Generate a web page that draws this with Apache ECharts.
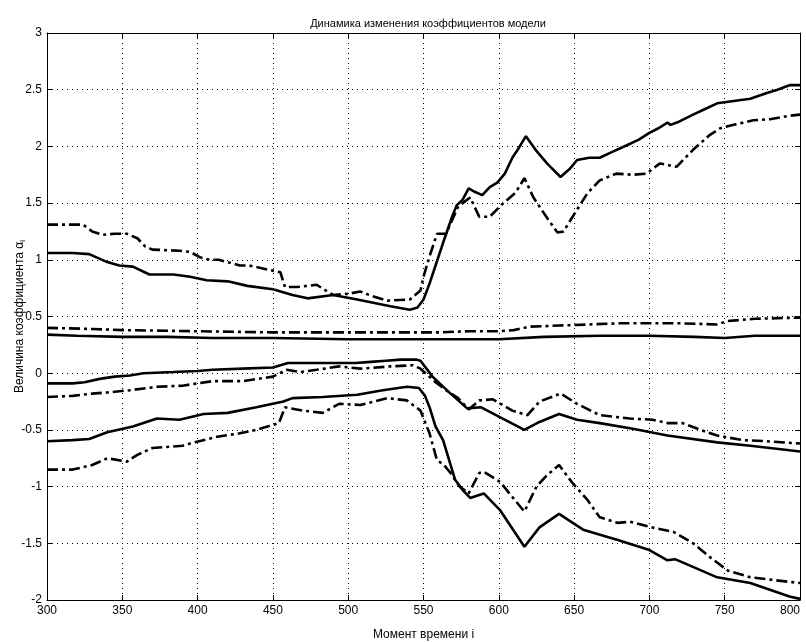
<!DOCTYPE html>
<html>
<head>
<meta charset="utf-8">
<script src="https://cdn.jsdelivr.net/npm/echarts/dist/echarts.min.js"></script>
<style>
html,body{margin:0;padding:0;background:#fff;}
#chart{width:806px;height:642px;}
</style>
</head>
<body>
<div id="chart"></div>
<script>
// ---- data ----
const xTicks = [300, 350, 400, 450, 500, 550, 600, 650, 700, 750, 800];
const yTicks = [-2, -1.5, -1, -0.5, 0, 0.5, 1, 1.5, 2, 2.5, 3];

// a1 (solid, top)
const t1 = [300,317,328,340,348,357,368,384,395,406,420,433,450,463,473,490,506,528,541,546,550,554,558,563,569,572,576,580,584,589,594,599,604,609,613,618,625,632,641,647,652,660,667,675,685,693,700,706,712,714,720,729,737,745,756,767,778,785,793,800];
const a1 = [1.06,1.06,1.05,0.98,0.95,0.94,0.87,0.87,0.85,0.82,0.81,0.77,0.74,0.69,0.66,0.69,0.65,0.59,0.56,0.58,0.65,0.79,0.95,1.15,1.38,1.48,1.53,1.63,1.60,1.57,1.64,1.68,1.76,1.90,1.98,2.09,1.96,1.85,1.73,1.80,1.88,1.90,1.90,1.95,2.01,2.06,2.12,2.16,2.21,2.19,2.22,2.28,2.33,2.38,2.40,2.42,2.47,2.50,2.54,2.54];

// a2 (dash-dot, top)
const t2 = [300,324,330,337,345,353,360,365,370,388,395,402,408,414,428,434,448,455,458,466,479,485,490,500,508,516,526,541,548,550,554,559,565,569,573,581,587,594,603,611,617,623,632,639,643,649,659,667,678,689,698,707,718,729,740,747,756,769,780,793,800];
const a2 = [1.31,1.31,1.25,1.22,1.23,1.23,1.19,1.12,1.09,1.08,1.07,1.02,1.00,1.00,0.95,0.95,0.91,0.89,0.76,0.76,0.78,0.73,0.69,0.70,0.72,0.68,0.64,0.65,0.73,0.85,1.03,1.23,1.23,1.35,1.47,1.55,1.38,1.38,1.50,1.59,1.72,1.55,1.37,1.24,1.25,1.38,1.59,1.70,1.76,1.75,1.76,1.85,1.82,1.97,2.10,2.16,2.19,2.23,2.24,2.27,2.28];

// a3 (dash-dot, ~0.4)
const t3 = [300,330,350,400,450,500,540,560,580,600,610,620,640,660,680,700,720,745,752,770,800];
const a3 = [0.40,0.39,0.38,0.37,0.36,0.36,0.36,0.36,0.37,0.37,0.38,0.41,0.42,0.43,0.44,0.44,0.44,0.43,0.46,0.48,0.49];

// a4 (solid, ~0.33)
const t4 = [300,320,350,380,410,450,500,550,580,600,630,667,700,730,750,770,800];
const a4 = [0.34,0.33,0.32,0.32,0.31,0.31,0.30,0.30,0.30,0.30,0.32,0.33,0.33,0.32,0.31,0.33,0.33];

// a5 (solid, near 0)
const t5 = [300,317,325,335,345,355,364,384,400,410,430,450,455,460,470,490,505,515,525,535,545,548,556,568,579,588,601,617,627,640,652,667,689,712,745,767,793,800];
const a5 = [-0.09,-0.09,-0.08,-0.05,-0.03,-0.02,0.00,0.01,0.02,0.03,0.04,0.05,0.07,0.09,0.09,0.09,0.09,0.10,0.11,0.12,0.12,0.11,-0.03,-0.18,-0.31,-0.30,-0.39,-0.50,-0.43,-0.36,-0.41,-0.44,-0.49,-0.55,-0.61,-0.64,-0.68,-0.69];

// a6 (dash-dot, near -0.2)
const t6 = [300,317,330,340,355,373,390,410,430,450,459,468,479,494,508,528,543,548,553,558,565,573,580,587,596,609,619,627,641,652,667,687,702,712,722,734,745,762,778,800];
const a6 = [-0.21,-0.20,-0.18,-0.17,-0.15,-0.12,-0.11,-0.07,-0.07,-0.03,0.03,0.01,0.03,0.06,0.04,0.06,0.07,0.04,-0.02,-0.08,-0.15,-0.22,-0.32,-0.24,-0.23,-0.33,-0.37,-0.25,-0.18,-0.27,-0.37,-0.40,-0.41,-0.44,-0.44,-0.50,-0.55,-0.59,-0.60,-0.62];

// a7 (solid, lower)
const t7 = [300,317,328,340,357,373,388,404,420,439,457,463,483,506,523,539,547,551,554,558,563,571,576,581,590,601,617,627,640,656,679,700,712,717,745,767,793,800];
const a7 = [-0.60,-0.59,-0.58,-0.52,-0.47,-0.40,-0.41,-0.36,-0.35,-0.30,-0.25,-0.22,-0.21,-0.19,-0.15,-0.12,-0.13,-0.20,-0.30,-0.47,-0.59,-0.94,-1.03,-1.10,-1.06,-1.21,-1.53,-1.36,-1.24,-1.38,-1.47,-1.56,-1.65,-1.64,-1.80,-1.85,-1.97,-1.99];

// a8 (dash-dot, lower)
const t8 = [300,317,330,340,353,360,370,390,395,413,428,439,454,458,470,483,494,508,526,539,548,554,559,563,568,574,580,587,590,601,607,617,625,632,640,649,659,667,679,687,702,716,729,740,752,767,793,800];
const a8 = [-0.85,-0.85,-0.81,-0.75,-0.78,-0.72,-0.66,-0.64,-0.62,-0.56,-0.53,-0.50,-0.44,-0.30,-0.33,-0.35,-0.27,-0.28,-0.22,-0.24,-0.33,-0.53,-0.77,-0.80,-0.88,-1.00,-1.06,-0.88,-0.87,-0.96,-1.06,-1.22,-1.00,-0.90,-0.81,-0.97,-1.12,-1.27,-1.32,-1.31,-1.36,-1.40,-1.50,-1.62,-1.74,-1.80,-1.84,-1.85];

const titleText = 'Динамика изменения коэффициентов модели';
const xName = 'Момент времени i';
const yNamePrefix = 'Величина коэффициента ';

// ---- build ----
function zip(t, a) { return t.map((v, i) => [v, a[i]]); }
const solid = { color: '#000', width: 2.6, type: 'solid' };
const dashdot = { color: '#000', width: 2.6, type: [11, 4, 3, 4] };
function mk(t, a, style) {
  return { type: 'line', data: zip(t, a), showSymbol: false, symbol: 'none',
    lineStyle: style, xAxisIndex: 0, yAxisIndex: 0, silent: true, z: 3 };
}

const chart = echarts.init(document.getElementById('chart'), null, { renderer: 'canvas' });
const font = 'Liberation Sans, Arial, sans-serif';
const baseX = { type: 'value', min: 300, max: 800, interval: 50 };
const baseY = { type: 'value', min: -2, max: 3, interval: 0.5 };
const frameLine = { show: true, onZero: false, lineStyle: { color: '#000', width: 1 } };
const tick = { show: true, inside: true, length: 5, lineStyle: { color: '#000' } };
const grid = { show: true, lineStyle: { color: '#000', width: 1, type: [1, 4] } };
chart.setOption({
  animation: false,
  backgroundColor: '#fff',
  title: { text: titleText, left: 423, top: 13, textAlign: 'center',
    textStyle: { fontFamily: font, fontSize: 11, fontWeight: 'normal', color: '#000' } },
  grid: { left: 47, right: 6, top: 33, bottom: 42, containLabel: false, outerBoundsMode: 'none' },
  xAxis: [
    Object.assign({}, baseX, { position: 'bottom',
      name: xName, nameLocation: 'middle', nameGap: 29,
      nameTextStyle: { fontFamily: font, fontSize: 12, color: '#000' },
      axisLine: frameLine, axisTick: tick,
      axisLabel: { show: true, fontFamily: font, fontSize: 12, color: '#000', margin: 5,
        alignMaxLabel: 'right', formatter: v => String(v) },
      splitLine: grid }),
    Object.assign({}, baseX, { position: 'top',
      axisLine: frameLine, axisTick: tick,
      axisLabel: { show: false }, splitLine: { show: false } })
  ],
  yAxis: [
    Object.assign({}, baseY, { position: 'left',
      name: yNamePrefix + '{a|α}{s|i}', nameLocation: 'middle', nameGap: 20,
      nameMoveOverlap: false,
      nameTextStyle: { fontFamily: font, fontSize: 12, color: '#000',
        rich: { a: { fontFamily: font, fontSize: 12, color: '#000' },
                s: { fontFamily: font, fontSize: 8, color: '#000', verticalAlign: 'bottom', padding: [6, 0, 0, 0] } } },
      axisLine: frameLine, axisTick: tick,
      axisLabel: { show: true, fontFamily: font, fontSize: 12, color: '#000', margin: 5,
        formatter: v => String(v) },
      splitLine: grid }),
    Object.assign({}, baseY, { position: 'right',
      axisLine: frameLine, axisTick: tick,
      axisLabel: { show: false }, splitLine: { show: false } })
  ],
  series: [
    mk(t1, a1, solid), mk(t2, a2, dashdot),
    mk(t3, a3, dashdot), mk(t4, a4, solid),
    mk(t5, a5, solid), mk(t6, a6, dashdot),
    mk(t7, a7, solid), mk(t8, a8, dashdot)
  ]
});
</script>
</body>
</html>
